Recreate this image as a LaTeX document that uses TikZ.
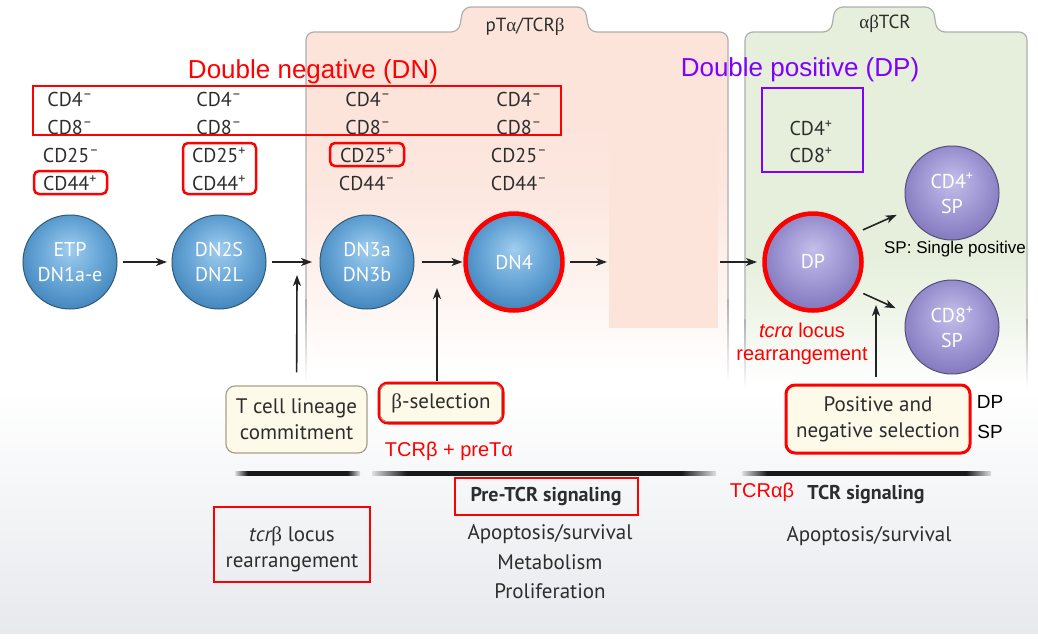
\documentclass[tikz,border=0pt]{standalone}
\usepackage{fontspec}
\setmainfont{PT Sans}
\newfontfamily\arialf{Liberation Sans}
\newfontfamily\grkf{Liberation Serif}
\newcommand\ga{{\grkf α}}
\newcommand\gb{{\grkf β}}
\usetikzlibrary{arrows.meta}
\definecolor{pinkc}{RGB}{252,228,219}
\definecolor{greenc}{RGB}{229,239,219}
\definecolor{bgB}{RGB}{231,233,237}
\definecolor{bgM}{RGB}{255,255,255}
\definecolor{txt}{RGB}{45,45,45}
\definecolor{redc}{RGB}{255,0,0}
\definecolor{purc}{RGB}{127,0,255}
\definecolor{bl1}{RGB}{160,205,238}
\definecolor{bl2}{RGB}{104,166,215}
\definecolor{bl3}{RGB}{72,138,192}
\definecolor{blb}{RGB}{45,90,120}
\definecolor{pu1}{RGB}{196,190,234}
\definecolor{pu2}{RGB}{160,152,212}
\definecolor{pu3}{RGB}{134,124,192}
\definecolor{pub}{RGB}{85,78,125}
\definecolor{cream}{RGB}{253,250,234}
\definecolor{boxb}{RGB}{165,160,140}
\definecolor{panb}{RGB}{175,175,175}
\definecolor{arrc}{RGB}{35,35,35}
\pgfdeclareradialshading{cellblue}{\pgfpoint{0bp}{7bp}}{color(0bp)=(bl1); color(16bp)=(bl2); color(27bp)=(bl3); color(50bp)=(bl3)}
\pgfdeclareradialshading{cellpurple}{\pgfpoint{0bp}{7bp}}{color(0bp)=(pu1); color(16bp)=(pu2); color(27bp)=(pu3); color(50bp)=(pu3)}
\pgfdeclareverticalshading{bgfade}{100bp}{color(0bp)=(bgB); color(25bp)=(bgB); color(44bp)=(white); color(100bp)=(white)}
\pgfdeclareverticalshading{pinkfade}{100bp}{color(0bp)=(bgM); color(27.5bp)=(bgM); color(39bp)=(pinkc!45!white); color(50bp)=(pinkc!85!white); color(60bp)=(pinkc); color(100bp)=(pinkc)}
\pgfdeclareverticalshading{greenfade}{100bp}{color(0bp)=(bgM); color(26bp)=(bgM); color(34bp)=(greenc!55!white); color(43bp)=(greenc); color(100bp)=(greenc)}
\pgfdeclareverticalshading{linefade}{100bp}{color(0bp)=(bgM); color(25bp)=(bgM); color(75bp)=(panb); color(100bp)=(panb)}
\pgfdeclarehorizontalshading{barshade}{100bp}{color(0bp)=(gray!15); color(25bp)=(gray!25); color(30bp)=(black!90); color(70bp)=(black!90); color(75bp)=(gray!25); color(100bp)=(gray!15)}
\newcommand\sups[1]{\textsuperscript{#1}}
\begin{document}
\begin{tikzpicture}[x=1pt,y=-1pt,
  lbl/.style={inner sep=0pt, text=txt, font=\fontsize{20}{25}\selectfont},
  bcell/.style={circle, minimum size=94pt, inner sep=0pt, draw=blb, line width=1pt, shade, shading=cellblue, text=white, align=center, font=\fontsize{20}{25}\selectfont},
  pcell/.style={circle, minimum size=94pt, inner sep=0pt, draw=pub, line width=1pt, shade, shading=cellpurple, text=white, align=center, font=\fontsize{20}{25}\selectfont},
  ring/.style={redc, line width=4.5pt},
  arr/.style={arrc, line width=1.6pt, -{Stealth[length=11pt,width=8pt,inset=3pt]}},
  cbox/.style={rounded corners=9pt, fill=cream, draw=boxb, line width=1.2pt, inner sep=0pt, text=txt, align=center, font=\fontsize{21}{26}\selectfont},
  redbox/.style={draw=redc, line width=2.5pt},
  anno/.style={inner sep=0pt, font=\arialf\fontsize{20}{23}\selectfont, text=redc, align=center},
  btxt/.style={inner sep=0pt, text=txt, align=center, font=\fontsize{21}{28}\selectfont},
  bar/.style={shade, shading=barshade}
]
% background
\fill[white] (0,0) rectangle (1038,643);
\useasboundingbox (0,0) rectangle (1038,643);
\shade[shading=bgfade] (0,0) rectangle (1038,633);
% pink panel
\path[shade, shading=pinkfade, rounded corners=8pt] (306,390) -- (306,32) -- (459,32) -- (463,7) -- (585,7) -- (589,32) -- (728,32) -- (728,390) -- cycle;
\fill[pinkc] (609,97) rectangle (718,328);
\draw[panb, line width=1.2pt, rounded corners=8pt] (306,300) -- (306,32) -- (459,32) -- (463,7) -- (585,7) -- (589,32) -- (728,32) -- (728,300);
\shade[shading=linefade] (305.4,299) rectangle (306.6,382);
\shade[shading=linefade] (727.4,299) rectangle (728.6,382);
\node[lbl, font=\fontsize{19}{22}\selectfont] (tab1) at (525,27) {pT\ga/TCR\gb};
% green panel
\path[shade, shading=greenfade, rounded corners=8pt] (745,392) -- (745,32) -- (831,32) -- (835,7) -- (933,7) -- (937,32) -- (1027,32) -- (1027,392) -- cycle;
\draw[panb, line width=1.2pt, rounded corners=8pt] (745,320) -- (745,32) -- (831,32) -- (835,7) -- (933,7) -- (937,32) -- (1027,32) -- (1027,320);
\shade[shading=linefade] (744.4,319) rectangle (745.6,388);
\shade[shading=linefade] (1026.4,319) rectangle (1027.6,388);
\node[lbl, font=\fontsize{19}{22}\selectfont] (tab2) at (885,24) {\ga\gb TCR};

% titles
\node[anno, font=\arialf\fontsize{26}{30}\selectfont] (dn) at (313,72) {Double negative (DN)};
\node[anno, font=\arialf\fontsize{26}{30}\selectfont, text=purc] (dpt) at (800,70) {Double positive (DP)};

% marker labels
\node[lbl] (a1) at (70,99) {CD4\sups{–}};
\node[lbl] (a2) at (70,127) {CD8\sups{–}};
\node[lbl] (a3) at (71,155) {CD25\sups{–}};
\node[lbl] (a4) at (70,183) {CD44\sups{+}};
\node[lbl] (b1) at (219,99) {CD4\sups{–}};
\node[lbl] (b2) at (219,127) {CD8\sups{–}};
\node[lbl] (b3) at (219,155) {CD25\sups{+}};
\node[lbl] (b4) at (219,183) {CD44\sups{+}};
\node[lbl] (c1) at (368,99) {CD4\sups{–}};
\node[lbl] (c2) at (368,127) {CD8\sups{–}};
\node[lbl] (c3) at (367,155) {CD25\sups{+}};
\node[lbl] (c4) at (367,183) {CD44\sups{–}};
\node[lbl] (d1) at (519,99) {CD4\sups{–}};
\node[lbl] (d2) at (519,127) {CD8\sups{–}};
\node[lbl] (d3) at (519,155) {CD25\sups{–}};
\node[lbl] (d4) at (519,183) {CD44\sups{–}};
\node[lbl] (e1) at (811,128) {CD4\sups{+}};
\node[lbl] (e2) at (811,155) {CD8\sups{+}};

% red / purple annotation boxes
\draw[redbox] (33,86) rectangle (561,135);
\draw[redbox, rounded corners=5pt] (34,171) rectangle (107,194);
\draw[redbox, rounded corners=5pt] (183,143) rectangle (256,194);
\draw[redbox, rounded corners=5pt] (330,143) rectangle (404,166);
\draw[draw=purc, line width=2.5pt] (762,88) rectangle (863,172);

% cells
\node[bcell] (etp) at (70,262) {ETP\\DN1a-e};
\node[bcell] (dn2) at (219,262) {DN2S\\DN2L};
\node[bcell] (dn3) at (367,262) {DN3a\\DN3b};
\node[bcell] (dn4) at (514,262) {DN4};
\draw[ring] (dn4.center) circle[radius=48.5pt];
\node[pcell] (dp) at (813,262) {DP};
\draw[ring] (dp.center) circle[radius=48.5pt];
\node[pcell] (sp4) at (952,193) {CD4\sups{+}\\SP};
\node[pcell] (sp8) at (952,327) {CD8\sups{+}\\SP};

% free ends
\coordinate (f1) at (607,262);
\coordinate (f2) at (720,262);
\coordinate (j1) at (297,275);
\coordinate (j2) at (437,288);
\coordinate (j3) at (876,305);

% bottom boxes
\node[cbox, minimum width=141pt, minimum height=67pt] (tcell) at (296.5,419.5) {T cell lineage\\commitment};
\node[cbox, draw=redc, line width=3pt, minimum width=124pt, minimum height=40pt] (bsel) at (441,403) {\gb-selection};
\draw[boxb, line width=0.8pt, rounded corners=6pt] ([shift={(3,3)}]bsel.north west) rectangle ([shift={(-3,-3)}]bsel.south east);
\node[cbox, draw=redc, line width=3pt, minimum width=184pt, minimum height=68pt] (posneg) at (878,419) {Positive and\\negative selection};

% arrows
\draw[arr, shorten <=5.5pt, shorten >=4.5pt] (etp) -- (dn2);
\draw[arr, shorten <=5.5pt, shorten >=7.5pt] (dn2) -- (dn3);
\draw[arr, shorten <=7.5pt, shorten >=4pt] (dn3) -- (dn4);
\draw[arr, shorten <=8.5pt] (dn4) -- (f1);
\draw[arr, shorten >=8.5pt] (f2) -- (dp);
\draw[arr, shorten <=12pt, shorten >=12pt] (dp.35) -- (sp4.201);
\draw[arr, shorten <=12pt, shorten >=12pt] (dp.-34) -- (sp8.163);
\draw[arr, shorten <=13pt] (tcell) -- (j1);
\draw[arr, shorten <=1pt] (bsel.north -| j2) -- (j2);
\draw[arr, shorten <=7pt] (posneg.north -| j3) -- (j3);

% annotation texts
\node[anno] (tcra) at (802,343.5) {{\itshape tcrα} locus\\rearrangement};
\node[anno, text=black, font=\arialf\fontsize{17}{20}\selectfont] (spn) at (955,249) {SP: Single positive};
\node[anno, text=black, font=\arialf\fontsize{19}{22}\selectfont] (dpl) at (990,402) {DP};
\node[anno, text=black, font=\arialf\fontsize{19}{22}\selectfont] (spl) at (990,432) {SP};
\node[anno] (tcrb) at (449,451) {TCRβ + preTα};

% bars
\path[bar] (235,471.5) rectangle (360,475.5);
\path[bar] (372,471.5) rectangle (716,475.5);
\path[bar] (742,471.5) rectangle (991,475.5);

% bottom texts
\node[btxt, font=\bfseries\fontsize{20}{26}\selectfont] (pretcr) at (546,496) {Pre-TCR signaling};
\draw[redbox] (455,478) rectangle (638,515);
\node[btxt] (ap1) at (550,534) {Apoptosis/survival};
\node[btxt] (met) at (550,562) {Metabolism};
\node[btxt] (pro) at (550,591) {Proliferation};
\node[btxt, font=\fontsize{21}{26}\selectfont] (tcrbl) at (292,549) {{\itshape tcr}\gb{} locus\\rearrangement};
\draw[redbox] (214,507) rectangle (370,582);
\node[anno] (tcrab) at (762,492) {TCRαβ};
\node[btxt, font=\bfseries\fontsize{20}{26}\selectfont] (tcrsig) at (866,494) {TCR signaling};
\node[btxt] (ap2) at (869,536) {Apoptosis/survival};
\end{tikzpicture}
\end{document}
